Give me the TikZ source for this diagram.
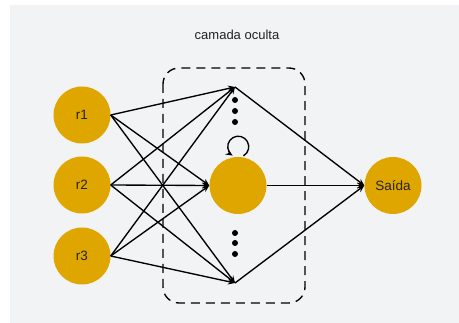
\documentclass[tikz,border=0pt]{standalone}
\usepackage{fontspec}
\setmainfont{Liberation Sans}
\usetikzlibrary{arrows.meta,positioning}
\definecolor{nngold}{RGB}{224,166,0}
\definecolor{nnbg}{RGB}{242,243,245}
\definecolor{nntext}{RGB}{35,35,35}

\begin{document}
\begin{tikzpicture}[x=1pt, y=-1pt,
  neuron/.style={circle, fill=nngold, minimum size=57pt, inner sep=0pt, font=\fontsize{13.5}{15}\selectfont, text=nntext},
  conn/.style={-{Stealth[length=7pt,width=6pt]}, line width=1.35pt},
  bullet/.style={circle, fill=black, minimum size=6pt, inner sep=0pt}]
\useasboundingbox (0,0) rectangle (459,323);
\fill[nnbg] (10,5) rectangle (459,323);

% Hidden layer frame
\draw[dashed, dash pattern=on 9pt off 6pt, line width=1.35pt, rounded corners=16pt] (163,68) rectangle (305,303);
\node[font=\fontsize{13}{15}\selectfont, text=nntext] (title) at (237,35) {camada oculta};

% Input neurons
\foreach \y/\lbl in {115/1, 185/2, 256/3} {
  \node[neuron] (r\lbl) at (82,\y) {r\lbl};
}

% Hidden neurons
\coordinate (h1) at (235,87);
\node[neuron] (h2) at (238,185.5) {};
\coordinate (h3) at (235,283);
\foreach \y in {100, 111, 122, 233, 243, 254} {
  \node[bullet] at (235,\y) {};
}

% Output neuron
\node[neuron] (out) at (393,185.5) {Saída};

% Connections input -> hidden
\foreach \i in {1,2,3} {
  \draw[conn] (r\i.east) -- (h1);
  \draw[conn] (r\i.east) -- (h2.west);
  \draw[conn] (r\i.east) -- (h3);
}
% Recurrent loop
\draw[conn] ([xshift=5.5pt, yshift=1pt]h2.north) arc[start angle=-60, end angle=238, radius=10.5pt];

% Connections hidden -> output
\draw[conn] (h1) -- (out.west);
\draw[conn] (h2.east) -- (out.west);
\draw[conn] (h3) -- (out.west);
\end{tikzpicture}
\end{document}
